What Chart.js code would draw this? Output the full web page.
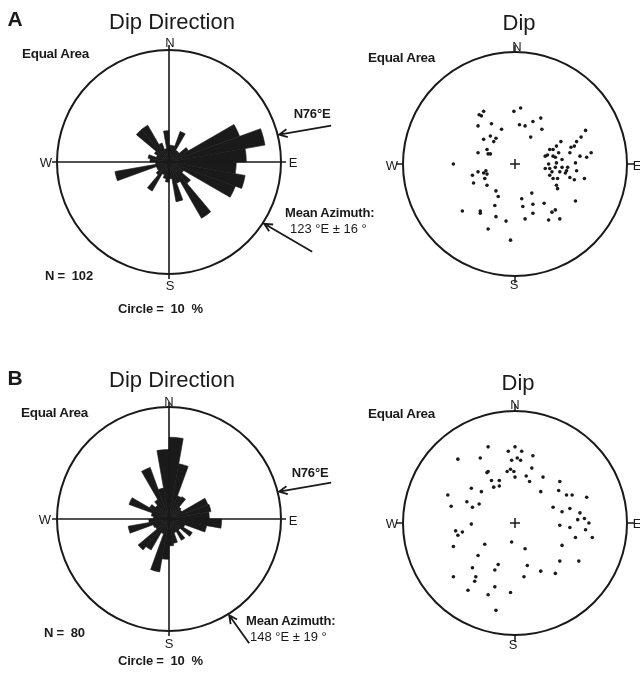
<!DOCTYPE html>
<html>
<head>
<meta charset="utf-8">
<script src="https://cdn.jsdelivr.net/npm/chart.js@4.4.0/dist/chart.umd.min.js"></script>
<style>
  body { margin: 0; width: 640px; height: 684px; position: relative; overflow: hidden; background: #fff;
         font-family: "Liberation Sans", Arial, Helvetica, sans-serif; color: #1a1a1a; }
  canvas { position: absolute; }
  .t { position: absolute; white-space: nowrap; line-height: 1; }
  .c { transform: translate(-50%, -50%); }
  .l { transform: translateY(-50%); }
  .title { font-size: 22px; }
  .panel { font-size: 21px; font-weight: bold; }
  .small { font-size: 13.5px; font-weight: bold; letter-spacing: -0.3px; }
  .dir { font-size: 13px; }
  .note { font-size: 13px; font-weight: bold; letter-spacing: -0.2px; }
</style>
</head>
<body>
<canvas id="roseA" width="340" height="320" style="left:0;top:0"></canvas>
<canvas id="dipA" width="300" height="320" style="left:340px;top:0"></canvas>
<canvas id="roseB" width="340" height="320" style="left:0;top:340px"></canvas>
<canvas id="dipB" width="300" height="320" style="left:340px;top:340px"></canvas>

<!-- Panel A -->
<div class="t panel c" style="left:15px;top:18px">A</div>
<div class="t title c" style="left:172px;top:22px">Dip Direction</div>
<div class="t small l" style="left:22px;top:54px">Equal Area</div>
<div class="t dir c" style="left:170px;top:42px">N</div>
<div class="t dir c" style="left:46px;top:162px">W</div>
<div class="t dir c" style="left:293px;top:162px">E</div>
<div class="t dir c" style="left:170px;top:285px">S</div>
<div class="t note l" style="left:45px;top:275px">N =&nbsp; 102</div>
<div class="t note l" style="left:118px;top:308px">Circle =&nbsp; 10 &nbsp;%</div>
<div class="t note c" style="left:312px;top:113px">N76°E</div>
<div class="t note l" style="left:285px;top:212px">Mean Azimuth:</div>
<div class="t dir l" style="left:290px;top:228px">123 °E ± 16 °</div>

<div class="t title c" style="left:519px;top:23px">Dip</div>
<div class="t small l" style="left:368px;top:58px">Equal Area</div>
<div class="t dir c" style="left:517px;top:46px">N</div>
<div class="t dir c" style="left:392px;top:165px">W</div>
<div class="t dir c" style="left:637px;top:165px">E</div>
<div class="t dir c" style="left:514px;top:284px">S</div>

<!-- Panel B -->
<div class="t panel c" style="left:15px;top:377px">B</div>
<div class="t title c" style="left:172px;top:380px">Dip Direction</div>
<div class="t small l" style="left:21px;top:413px">Equal Area</div>
<div class="t dir c" style="left:169px;top:401px">N</div>
<div class="t dir c" style="left:45px;top:519px">W</div>
<div class="t dir c" style="left:293px;top:520px">E</div>
<div class="t dir c" style="left:169px;top:643px">S</div>
<div class="t note l" style="left:44px;top:632px">N =&nbsp; 80</div>
<div class="t note l" style="left:118px;top:660px">Circle =&nbsp; 10 &nbsp;%</div>
<div class="t note c" style="left:310px;top:472px">N76°E</div>
<div class="t note l" style="left:246px;top:620px">Mean Azimuth:</div>
<div class="t dir l" style="left:250px;top:636px">148 °E ± 19 °</div>

<div class="t title c" style="left:518px;top:383px">Dip</div>
<div class="t small l" style="left:368px;top:414px">Equal Area</div>
<div class="t dir c" style="left:515px;top:404px">N</div>
<div class="t dir c" style="left:392px;top:523px">W</div>
<div class="t dir c" style="left:637px;top:523px">E</div>
<div class="t dir c" style="left:513px;top:644px">S</div>

<script>
// 10-degree dip-direction bins, clockwise from north
const binStarts = Array.from({ length: 36 }, (_, i) => i * 10);
const binLabels = binStarts.map(a => a + '°');

// Percent of measurements per bin (outer circle = 10 %)
const roseA = [1.5, 1.5, 2.9, 1.2, 1.2, 2.0, 6.7, 8.7, 6.9, 6.0, 6.9, 6.3,
               1.5, 2.5, 5.8, 2.0, 3.6, 1.5, 1.8, 1.5, 1.2, 3.0, 1.5, 1.2,
               1.2, 4.9, 1.2, 1.7, 1.9, 1.2, 1.5, 3.8, 3.8, 1.8, 1.2, 2.8];
const roseB = [7.3, 5.0, 2.2, 2.3, 1.4, 1.3, 3.7, 3.8, 3.6, 4.7, 3.4, 1.5,
               2.4, 1.3, 2.2, 1.3, 2.2, 2.4, 3.6, 4.8, 1.4, 3.2, 3.6, 1.4,
               1.5, 3.7, 1.8, 1.4, 1.6, 3.8, 2.0, 1.6, 2.0, 4.9, 2.8, 6.2];

// Reference trend and mean azimuths (degrees east of north)
const refAzimuth = 76;
const meanAzimuthA = 123;
const meanAzimuthB = 148;

// Poles on the equal-area net: [east, north] in net-radius units
const dipA = [
  [-0.32, 0.44], [-0.28, 0.47], [-0.30, 0.43], [-0.33, 0.34], [-0.21, 0.36], [-0.12, 0.31],
  [-0.22, 0.25], [-0.17, 0.23], [-0.19, 0.20], [-0.28, 0.22], [-0.33, 0.10], [-0.25, 0.13],
  [-0.24, 0.09], [-0.22, 0.09],
  [-0.01, 0.47], [0.05, 0.50], [0.04, 0.35], [0.09, 0.34], [0.16, 0.38], [0.23, 0.41],
  [0.24, 0.31], [0.14, 0.24],
  [0.63, 0.30], [0.59, 0.24], [0.55, 0.20], [0.50, 0.15], [0.53, 0.16], [0.41, 0.20],
  [0.34, 0.13], [0.31, 0.13], [0.37, 0.16], [0.39, 0.10], [0.27, 0.07], [0.29, 0.08],
  [0.34, 0.07], [0.58, 0.07], [0.64, 0.06], [0.68, 0.10], [0.54, 0.01], [0.30, 0.00],
  [0.37, 0.01], [0.31, -0.04], [0.36, -0.03], [0.42, -0.03], [0.47, -0.03], [0.40, -0.07],
  [0.45, -0.08], [0.31, -0.10], [0.34, -0.13], [0.38, -0.13], [0.37, -0.19], [0.38, -0.22],
  [0.53, -0.14], [0.62, -0.13], [0.49, -0.12], [0.46, -0.06], [0.36, 0.06], [0.42, 0.04],
  [0.49, 0.10], [0.33, -0.07], [0.27, -0.04], [0.55, -0.06],
  [-0.55, 0.00], [-0.38, -0.10], [-0.33, -0.07], [-0.28, -0.08], [-0.26, -0.06], [-0.25, -0.09],
  [-0.37, -0.17], [-0.27, -0.13], [-0.25, -0.19],
  [-0.17, -0.24], [-0.15, -0.29], [-0.18, -0.37], [0.06, -0.31], [0.15, -0.26], [0.07, -0.38],
  [0.16, -0.36], [0.26, -0.35], [0.16, -0.44], [0.09, -0.49], [0.33, -0.43], [0.36, -0.41],
  [0.30, -0.50], [0.40, -0.49], [0.54, -0.33], [-0.47, -0.42], [-0.31, -0.42], [-0.31, -0.44],
  [-0.17, -0.47], [-0.08, -0.51], [-0.24, -0.58], [-0.04, -0.68]
];
const dipB = [
  [-0.24, 0.68], [-0.06, 0.64], [0.00, 0.68], [0.06, 0.64], [0.16, 0.60], [-0.51, 0.57],
  [-0.31, 0.58], [-0.03, 0.56], [0.02, 0.58], [0.05, 0.56], [-0.25, 0.45], [-0.24, 0.46],
  [-0.07, 0.46], [-0.04, 0.48], [-0.01, 0.46], [0.00, 0.41], [0.10, 0.42], [0.15, 0.49],
  [0.25, 0.41], [0.13, 0.37], [-0.21, 0.38], [-0.14, 0.38], [-0.19, 0.32], [-0.14, 0.33],
  [0.23, 0.28], [0.40, 0.37], [0.39, 0.29], [0.46, 0.25], [0.51, 0.25], [0.64, 0.23],
  [-0.60, 0.25], [-0.57, 0.15], [-0.39, 0.31], [-0.30, 0.28], [-0.43, 0.19], [-0.38, 0.14],
  [-0.32, 0.17], [0.34, 0.14], [0.42, 0.10], [0.49, 0.13], [0.58, 0.09], [0.62, 0.04],
  [0.66, 0.00], [0.56, 0.03], [0.63, -0.06], [0.54, -0.13], [0.69, -0.13], [0.40, -0.02],
  [0.49, -0.04], [-0.39, -0.01], [-0.53, -0.07], [-0.47, -0.08], [-0.51, -0.11], [-0.55, -0.21],
  [-0.27, -0.19], [-0.03, -0.17], [0.09, -0.23], [-0.33, -0.29], [0.42, -0.20], [0.40, -0.34],
  [0.57, -0.34], [-0.38, -0.40], [-0.15, -0.37], [-0.18, -0.42], [0.11, -0.38], [0.23, -0.43],
  [0.36, -0.45], [0.08, -0.48], [-0.55, -0.48], [-0.35, -0.48], [-0.36, -0.52], [-0.42, -0.60],
  [-0.24, -0.64], [-0.18, -0.57], [-0.04, -0.62], [-0.17, -0.78]
];

const INK = '#1a1a1a';

// Open-headed arrow pointing at a given azimuth on the rim
function rimArrow(ctx, cx, cy, r, az, tail) {
  const a = az * Math.PI / 180;
  const tx = cx + (r + 1.5) * Math.sin(a);
  const ty = cy - (r + 1.5) * Math.cos(a);
  const ex = tx + tail[0], ey = ty + tail[1];
  const ang = Math.atan2(ty - ey, tx - ex);
  ctx.beginPath();
  ctx.moveTo(ex, ey);
  ctx.lineTo(tx, ty);
  const h = 9, w = 0.45;
  ctx.moveTo(tx - h * Math.cos(ang - w), ty - h * Math.sin(ang - w));
  ctx.lineTo(tx, ty);
  ctx.lineTo(tx - h * Math.cos(ang + w), ty - h * Math.sin(ang + w));
  ctx.stroke();
}

// Outer circle, compass cross and azimuth arrows of the rose
const roseFrame = {
  id: 'roseFrame',
  afterDraw(chart, args, opts) {
    const s = chart.scales.r;
    const ctx = chart.ctx;
    const cx = s.xCenter, cy = s.yCenter, r = s.drawingArea;
    ctx.save();
    ctx.strokeStyle = INK;
    ctx.lineWidth = 1.6;
    ctx.beginPath();
    ctx.moveTo(cx, cy - r - 5); ctx.lineTo(cx, cy + r + 5);
    ctx.moveTo(cx - r - 5, cy); ctx.lineTo(cx + r + 5, cy);
    ctx.stroke();
    ctx.lineWidth = 2;
    ctx.beginPath();
    ctx.arc(cx, cy, r, 0, Math.PI * 2);
    ctx.stroke();
    ctx.lineWidth = 1.8;
    rimArrow(ctx, cx, cy, r, opts.refAz, opts.refTail);
    rimArrow(ctx, cx, cy, r, opts.meanAz, opts.meanTail);
    ctx.restore();
  }
};

// Net outline, compass ticks and centre cross of the stereonet
const netFrame = {
  id: 'netFrame',
  beforeDatasetsDraw(chart) {
    const a = chart.chartArea;
    const ctx = chart.ctx;
    const cx = (a.left + a.right) / 2, cy = (a.top + a.bottom) / 2, r = (a.right - a.left) / 2;
    ctx.save();
    ctx.strokeStyle = INK;
    ctx.lineWidth = 2;
    ctx.beginPath();
    ctx.arc(cx, cy, r, 0, Math.PI * 2);
    ctx.stroke();
    ctx.lineWidth = 1.5;
    ctx.beginPath();
    ctx.moveTo(cx, cy - r); ctx.lineTo(cx, cy - r - 7);
    ctx.moveTo(cx, cy + r); ctx.lineTo(cx, cy + r + 7);
    ctx.moveTo(cx - r, cy); ctx.lineTo(cx - r - 7, cy);
    ctx.moveTo(cx + r, cy); ctx.lineTo(cx + r + 7, cy);
    ctx.moveTo(cx - 5, cy); ctx.lineTo(cx + 5, cy);
    ctx.moveTo(cx, cy - 5); ctx.lineTo(cx, cy + 5);
    ctx.stroke();
    ctx.restore();
  }
};

function makeRose(id, values, meanAz, padding, meanTail) {
  new Chart(document.getElementById(id), {
    type: 'polarArea',
    data: {
      labels: binLabels,
      datasets: [{ data: values, backgroundColor: INK, borderColor: INK, borderWidth: 0.6 }]
    },
    options: {
      responsive: false,
      animation: false,
      layout: { padding },
      scales: {
        r: {
          min: 0, max: 10, startAngle: 0,
          ticks: { display: false },
          grid: { display: false },
          angleLines: { display: false },
          pointLabels: { display: false }
        }
      },
      plugins: {
        legend: { display: false },
        tooltip: { enabled: false },
        roseFrame: { refAz: refAzimuth, refTail: [52, -9], meanAz, meanTail }
      }
    },
    plugins: [roseFrame]
  });
}

function makeNet(id, poles, padding) {
  new Chart(document.getElementById(id), {
    type: 'scatter',
    data: {
      datasets: [{
        data: poles.map(([x, y]) => ({ x, y })),
        pointRadius: 1.8, pointBackgroundColor: INK, pointBorderWidth: 0
      }]
    },
    options: {
      responsive: false,
      animation: false,
      layout: { padding },
      scales: {
        x: { type: 'linear', min: -1, max: 1, display: false },
        y: { type: 'linear', min: -1, max: 1, display: false }
      },
      plugins: { legend: { display: false }, tooltip: { enabled: false } }
    },
    plugins: [netFrame]
  });
}

makeRose('roseA', roseA, meanAzimuthA, { left: 57, right: 59, top: 50, bottom: 46 }, [48, 28]);
makeRose('roseB', roseB, meanAzimuthB, { left: 57, right: 59, top: 67, bottom: 29 }, [20, 28]);
makeNet('dipA', dipA, { left: 63, right: 13, top: 52, bottom: 44 });
makeNet('dipB', dipB, { left: 63, right: 13, top: 71, bottom: 25 });
</script>
</body>
</html>
